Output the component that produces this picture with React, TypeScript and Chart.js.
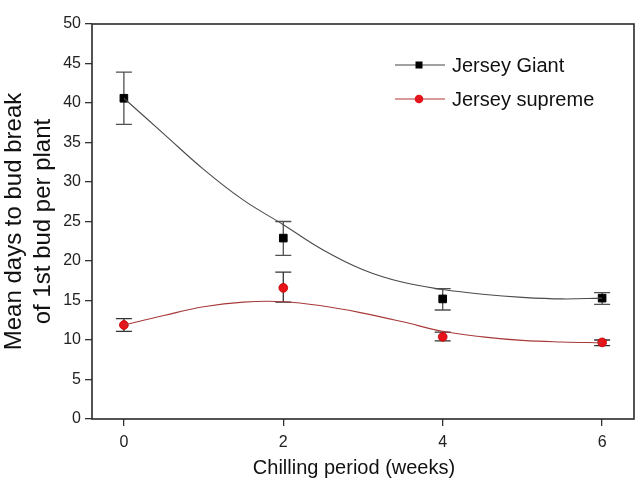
import { useEffect, useRef } from 'react';
import { Chart, registerables } from 'chart.js';

Chart.register(...registerables);

// ---- data ----
const weeks = [0, 2, 4, 6];
const giantMean = [40.6, 22.9, 15.2, 15.3];
const giantLow = [37.3, 20.7, 13.8, 14.5];
const giantHigh = [43.9, 25.0, 16.5, 16.0];
const supremeMean = [11.9, 16.6, 10.4, 9.7];
const supremeLow = [11.1, 14.8, 9.9, 9.3];
const supremeHigh = [12.7, 18.6, 11.0, 10.0];

const fitWeeks = [0, 0.5, 1, 1.5, 2, 2.5, 3, 3.5, 4, 4.5, 5, 5.5, 6];
const giantFit = [40.6, 36.1, 31.6, 27.7, 24.6, 21.4, 18.9, 17.3, 16.4, 15.8, 15.4, 15.2, 15.3];
const supremeFit = [11.9, 13.1, 14.2, 14.8, 14.85, 14.3, 13.4, 12.3, 11.1, 10.4, 9.95, 9.75, 9.65];

const xTicks = [0, 2, 4, 6];
const yTicks = [0, 5, 10, 15, 20, 25, 30, 35, 40, 45, 50];

const seriesNames = ['Jersey Giant', 'Jersey supreme'];
const xTitle = 'Chilling period (weeks)';
const yTitle = ['Mean days to bud break', 'of 1st bud per plant'];

const FONT = "'Liberation Sans', Arial, sans-serif";

const errorBarPlugin = {
  id: 'errorBars',
  beforeDatasetsDraw(chart: any) {
    const { ctx, scales } = chart;
    const x = scales.x;
    const y = scales.y;
    const sets: [number[], number[], string][] = [
      [giantLow, giantHigh, '#505050'],
      [supremeLow, supremeHigh, '#333333'],
    ];
    ctx.save();
    ctx.lineWidth = 1.3;
    sets.forEach(([lo, hi, col]) => {
      weeks.forEach((w, i) => {
        const px = x.getPixelForValue(w);
        const y1 = y.getPixelForValue(lo[i]);
        const y2 = y.getPixelForValue(hi[i]);
        ctx.strokeStyle = col;
        ctx.beginPath();
        ctx.moveTo(px, y1);
        ctx.lineTo(px, y2);
        ctx.moveTo(px - 8, y1);
        ctx.lineTo(px + 8, y1);
        ctx.moveTo(px - 8, y2);
        ctx.lineTo(px + 8, y2);
        ctx.stroke();
      });
    });
    ctx.restore();
  },
};

const framePlugin = {
  id: 'frameLegend',
  afterDraw(chart: any) {
    const { ctx, chartArea } = chart;
    ctx.save();
    ctx.strokeStyle = '#2a2a2a';
    ctx.lineWidth = 1.6;
    ctx.strokeRect(chartArea.left, chartArea.top, chartArea.right - chartArea.left, chartArea.bottom - chartArea.top);

    // x axis title (slightly left of the plot centre, as in the reference)
    ctx.fillStyle = '#111';
    ctx.font = `20px ${FONT}`;
    ctx.textAlign = 'center';
    ctx.textBaseline = 'middle';
    ctx.fillText(xTitle, (chartArea.left + chartArea.right) / 2 - 9, chartArea.bottom + 49);

    // legend
    const lx = chartArea.right - 239;
    const rows = [chartArea.top + 41, chartArea.top + 75];
    const lineCols = ['#444444', '#b03535'];
    rows.forEach((ry, i) => {
      ctx.strokeStyle = lineCols[i];
      ctx.lineWidth = 1;
      ctx.beginPath();
      ctx.moveTo(lx, ry);
      ctx.lineTo(lx + 50, ry);
      ctx.stroke();
      if (i === 0) {
        ctx.fillStyle = '#000';
        ctx.fillRect(lx + 24 - 3.5, ry - 3.5, 7, 7);
      } else {
        ctx.fillStyle = '#e3141a';
        ctx.beginPath();
        ctx.arc(lx + 24, ry, 4.3, 0, Math.PI * 2);
        ctx.fill();
      }
      ctx.fillStyle = '#111';
      ctx.font = `20px ${FONT}`;
      ctx.textBaseline = 'middle';
      ctx.textAlign = 'left';
      ctx.fillText(seriesNames[i], lx + 57, ry + 1);
    });
    ctx.restore();
  },
};

export default function App() {
  const ref = useRef<HTMLCanvasElement | null>(null);

  useEffect(() => {
    if (!ref.current) return;
    const chart = new Chart(ref.current, {
      type: 'scatter',
      data: {
        datasets: [
          {
            label: seriesNames[0] + ' fit',
            data: fitWeeks.map((w, i) => ({ x: w, y: giantFit[i] })),
            showLine: true,
            borderColor: '#4a4a4a',
            borderWidth: 1.1,
            pointRadius: 0,
            tension: 0.4,
          } as any,
          {
            label: seriesNames[1] + ' fit',
            data: fitWeeks.map((w, i) => ({ x: w, y: supremeFit[i] })),
            showLine: true,
            borderColor: '#a83a3a',
            borderWidth: 1.1,
            pointRadius: 0,
            tension: 0.4,
          } as any,
          {
            label: seriesNames[0],
            data: weeks.map((w, i) => ({ x: w, y: giantMean[i] })),
            showLine: false,
            pointStyle: 'rect',
            pointRadius: 5.4,
            pointBorderWidth: 1,
            backgroundColor: '#000',
            borderColor: '#000',
          } as any,
          {
            label: seriesNames[1],
            data: weeks.map((w, i) => ({ x: w, y: supremeMean[i] })),
            showLine: false,
            pointStyle: 'circle',
            pointRadius: 4.4,
            pointBorderWidth: 0.8,
            backgroundColor: '#e8141a',
            borderColor: '#c00000',
          } as any,
        ],
      },
      options: {
        animation: false,
        responsive: false,
        events: [],
        layout: { padding: { top: 24, right: 9, left: 0, bottom: 0 } },
        plugins: { legend: { display: false }, tooltip: { enabled: false } },
        scales: {
          x: {
            type: 'linear',
            min: -0.4,
            max: 6.4,
            afterBuildTicks: (s: any) => {
              s.ticks = xTicks.map((v) => ({ value: v }));
            },
            afterFit: (s: any) => {
              s.height = 69;
            },
            border: { display: false },
            grid: { drawOnChartArea: false, drawTicks: true, tickLength: 7, color: '#333', lineWidth: 1.3 },
            ticks: { color: '#222', font: { family: FONT, size: 16 }, padding: 7 },
          },
          y: {
            type: 'linear',
            min: 0,
            max: 50,
            afterBuildTicks: (s: any) => {
              s.ticks = yTicks.map((v) => ({ value: v }));
            },
            afterFit: (s: any) => {
              s.width = 92;
            },
            border: { display: false },
            grid: { drawOnChartArea: false, drawTicks: true, tickLength: 7, color: '#333', lineWidth: 1.3 },
            ticks: { color: '#222', font: { family: FONT, size: 16 }, padding: 4 },
            title: {
              display: true,
              text: yTitle,
              color: '#111',
              font: { family: FONT, size: 24, lineHeight: 1.2 },
              padding: { top: 0, bottom: 0 },
            },
          },
        },
      } as any,
      plugins: [errorBarPlugin, framePlugin],
    });
    return () => chart.destroy();
  }, []);

  return (
    <div style={{ position: 'fixed', left: 0, top: 0, width: 643, height: 488, background: '#fff' }}>
      <canvas ref={ref} width={643} height={488} style={{ display: 'block' }} />
    </div>
  );
}
